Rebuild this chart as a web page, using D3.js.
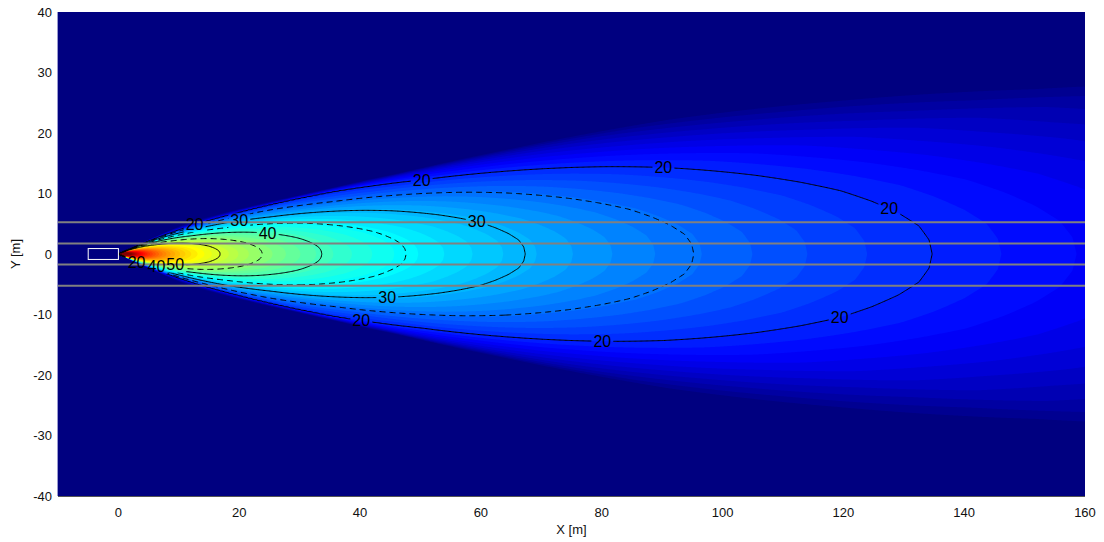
<!DOCTYPE html>
<html lang="en">

<head>
    <meta charset="utf-8">
    <title>Headlamp illuminance contour</title>
    <script src="https://d3js.org/d3.v7.min.js"></script>
    <style type="text/css">
        body { margin: 0; background: #fff; }
        text { font-family: "Liberation Sans", Arial, sans-serif; }
    </style>
</head>

<body>
    <script type="text/javascript">

        // axis ranges and ticks
        var xDomain = [-10, 160];
        var yDomain = [-40, 40];
        var xTicks = [0, 20, 40, 60, 80, 100, 120, 140, 160];
        var yTicks = [-40, -30, -20, -10, 0, 10, 20, 30, 40];

        // beam profile, per angle (deg) off the road axis:
        // distance (m) from the lamp to the 20-contour, and to the faint outer edge
        var beamAngle = [0, 1, 2, 3, 4, 5, 6, 7, 8, 9, 10.2, 12, 13.7, 15, 16, 17, 18, 19, 20, 21, 22, 23, 24, 25, 26, 28, 90, 180];
        var reach20 = [134.7, 134.2, 132.6, 129.3, 125, 120, 113.5, 106.5, 99, 91.4, 81.5, 66, 51.7, 43.5, 38, 32, 26.5, 21.5, 17.5, 14, 10, 6.5, 3.5, 1.5, 0.6, 0.1, 0.001, 0.001];
        var reachEdge = [305, 303, 298, 290, 280, 268, 250, 232, 212, 195, 165, 130, 100, 70, 50, 39, 31.5, 27, 23, 20, 17.5, 16, 14.7, 8, 3, 0.5, 0.002, 0.002];
        var refLevel = 20;
        var edgeLevel = 8;
        var dropPerDoubling = 10;   // level lost each time distance doubles

        // contour lines (solid every 10, dashed in between)
        var lineLevels = [20, 25, 30, 35, 40, 45, 50];
        // colour limits of the jet map, and step of the filled bands
        var colorLimits = [8, 79];
        var fillStep = 1.2;

        // lane markings and car outline
        var laneY = [5.25, 1.75, -1.75, -5.25];
        var carX = [-5, 0];
        var carY = [-0.9, 0.9];

        // contour labels: level, x position, side of the axis
        var labelLevel = [20, 20, 20, 20, 20, 20, 30, 30, 40, 30, 20, 20, 40, 50];
        var labelX     = [50.2, 90.2, 127.6, 119.4, 80.1, 40.2, 59.3, 44.5, 24.7, 20, 12.6, 3.0, 6.3, 9.4];
        var labelSide  = [1, 1, 1, -1, -1, -1, 1, -1, 1, 1, 1, -1, -1, -1];

        var W = 1104, H = 542;
        var margin = { left: 58, right: 19, top: 12, bottom: 46 };

        var xScale = d3.scaleLinear().domain(xDomain).range([margin.left, W - margin.right]);
        var yScale = d3.scaleLinear().domain(yDomain).range([H - margin.bottom, margin.top]);
        var reach = d3.scaleLinear().domain(beamAngle).range(reach20).clamp(true);
        var edge = d3.scaleLinear().domain(beamAngle).range(reachEdge).clamp(true);

        function level(x, y) {
            var r = Math.max(Math.hypot(x, y), 0.05);
            var ang = Math.abs(Math.atan2(y, x)) * 180 / Math.PI;
            var d20 = reach(ang);
            if (r <= d20) return refLevel + dropPerDoubling * Math.log2(d20 / r);
            var d8 = Math.max(edge(ang), d20 * 1.05);
            return refLevel - (refLevel - edgeLevel) * Math.log2(r / d20) / Math.log2(d8 / d20);
        }

        function jet(t) {
            t = Math.max(0, Math.min(1, t));
            var c = function (v) { return Math.round(255 * Math.max(0, Math.min(1, v))); };
            return d3.rgb(c(1.5 - Math.abs(4 * t - 3)), c(1.5 - Math.abs(4 * t - 2)), c(1.5 - Math.abs(4 * t - 1))).toString();
        }
        var colorT = d3.scaleLinear().domain(colorLimits).range([0, 1]);

        // grid of values
        var dx = 0.2;
        var nx = Math.round((xDomain[1] - xDomain[0]) / dx);
        var ny = Math.round((yDomain[1] - yDomain[0]) / dx);
        var values = new Float64Array(nx * ny);
        for (var j = 0; j < ny; j++) {
            var yy = yDomain[1] - (j + 0.5) * dx;
            for (var i = 0; i < nx; i++) {
                var xx = xDomain[0] + (i + 0.5) * dx;
                values[j * nx + i] = level(xx, yy);
            }
        }

        var proj = d3.geoTransform({
            point: function (gx, gy) {
                this.stream.point(xScale(xDomain[0] + gx * dx), yScale(yDomain[1] - gy * dx));
            }
        });
        var path = d3.geoPath(proj);

        var svg = d3.select("body").append("svg")
            .attr("width", W)
            .attr("height", H);

        svg.append("clipPath").attr("id", "plot")
            .append("rect")
            .attr("x", margin.left).attr("y", margin.top)
            .attr("width", W - margin.left - margin.right)
            .attr("height", H - margin.top - margin.bottom);

        var plot = svg.append("g").attr("clip-path", "url(#plot)");

        plot.append("rect")
            .attr("x", margin.left).attr("y", margin.top)
            .attr("width", W - margin.left - margin.right)
            .attr("height", H - margin.top - margin.bottom)
            .attr("fill", jet(0));

        // filled bands
        var fillLevels = d3.range(colorLimits[0], colorLimits[1] + fillStep, fillStep);
        var bands = d3.contours().size([nx, ny]).thresholds(fillLevels)(values);
        plot.append("g").selectAll("path")
            .data(bands)
            .enter()
            .append("path")
            .attr("d", path)
            .attr("fill", function (d) { return jet(colorT(d.value)); });

        // contour labels first (to measure them), lines are masked around them
        var labels = svg.append("g");
        var labelData = labelLevel.map(function (L, k) {
            var x = labelX[k], lo = 0, hi = x * Math.tan(35 * Math.PI / 180);
            for (var it = 0; it < 50; it++) {
                var mid = (lo + hi) / 2;
                if (level(x, labelSide[k] * mid) > L) lo = mid; else hi = mid;
            }
            return { level: L, x: x, y: labelSide[k] * (lo + hi) / 2 };
        });

        var mask = svg.append("mask").attr("id", "lblmask").attr("maskUnits", "userSpaceOnUse");
        mask.append("rect").attr("x", 0).attr("y", 0).attr("width", W).attr("height", H).attr("fill", "white");

        labels.selectAll("text")
            .data(labelData)
            .enter()
            .append("text")
            .attr("x", function (d) { return xScale(d.x); })
            .attr("y", function (d) { return yScale(d.y); })
            .attr("dy", "0.35em")
            .attr("text-anchor", "middle")
            .attr("font-size", 16)
            .attr("fill", "#000")
            .text(function (d) { return d.level; })
            .each(function () {
                var b = this.getBBox();
                mask.append("rect")
                    .attr("x", b.x - 2).attr("y", b.y + 1)
                    .attr("width", b.width + 4).attr("height", b.height - 2)
                    .attr("fill", "black");
            });

        var lines = d3.contours().size([nx, ny]).thresholds(lineLevels)(values);
        plot.append("g")
            .attr("mask", "url(#lblmask)")
            .selectAll("path")
            .data(lines)
            .enter()
            .append("path")
            .attr("d", path)
            .attr("fill", "none")
            .attr("stroke", "#000")
            .attr("stroke-width", 1)
            .attr("stroke-dasharray", function (d) { return d.value % 10 === 0 ? null : "6,4"; });

        labels.raise();

        // lane markings
        plot.append("g").selectAll("line")
            .data(laneY)
            .enter()
            .append("line")
            .attr("x1", xScale(xDomain[0])).attr("x2", xScale(xDomain[1]))
            .attr("y1", function (d) { return yScale(d); })
            .attr("y2", function (d) { return yScale(d); })
            .attr("stroke", "#808080")
            .attr("stroke-width", 2);

        // car
        plot.append("rect")
            .attr("x", xScale(carX[0])).attr("y", yScale(carY[1]))
            .attr("width", xScale(carX[1]) - xScale(carX[0]))
            .attr("height", yScale(carY[0]) - yScale(carY[1]))
            .attr("fill", "none")
            .attr("stroke", "#fff")
            .attr("stroke-width", 1);

        // frame
        svg.append("line")
            .attr("x1", margin.left).attr("x2", W - margin.right)
            .attr("y1", H - margin.bottom + 0.5).attr("y2", H - margin.bottom + 0.5)
            .attr("stroke", "#555");
        svg.append("line")
            .attr("x1", margin.left - 0.5).attr("x2", margin.left - 0.5)
            .attr("y1", margin.top).attr("y2", H - margin.bottom)
            .attr("stroke", "#9a9ad0");

        // tick labels
        svg.append("g").selectAll("text")
            .data(xTicks)
            .enter()
            .append("text")
            .attr("x", function (d) { return xScale(d); })
            .attr("y", H - margin.bottom + 21)
            .attr("text-anchor", "middle")
            .attr("font-size", 13)
            .attr("fill", "#111")
            .text(function (d) { return d; });

        svg.append("g").selectAll("text")
            .data(yTicks)
            .enter()
            .append("text")
            .attr("x", margin.left - 6)
            .attr("y", function (d) { return yScale(d); })
            .attr("dy", "0.35em")
            .attr("text-anchor", "end")
            .attr("font-size", 13)
            .attr("fill", "#111")
            .text(function (d) { return d; });

        // axis titles
        svg.append("text")
            .attr("x", xScale(75))
            .attr("y", H - 8)
            .attr("text-anchor", "middle")
            .attr("font-size", 13)
            .attr("fill", "#111")
            .text("X [m]");

        svg.append("text")
            .attr("transform", "translate(20," + yScale(0) + ") rotate(-90)")
            .attr("text-anchor", "middle")
            .attr("font-size", 13)
            .attr("fill", "#111")
            .text("Y [m]");
    </script>
</body>

</html>
